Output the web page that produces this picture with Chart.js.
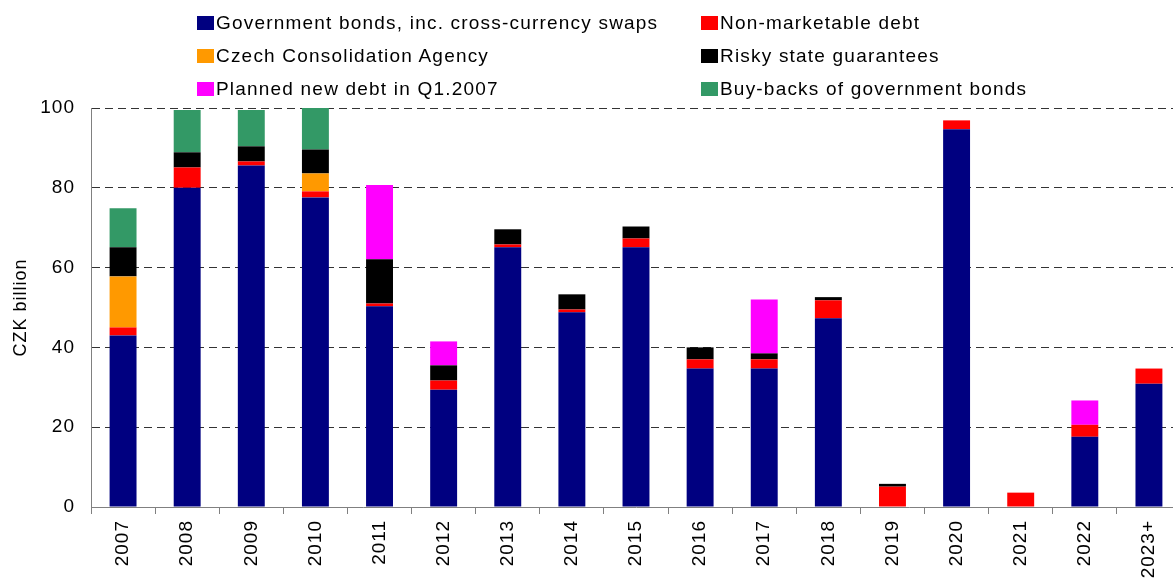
<!DOCTYPE html>
<html>
<head>
<meta charset="utf-8">
<script src="https://cdn.jsdelivr.net/npm/chart.js@4.4.1/dist/chart.umd.min.js"></script>
<style>
    html, body { margin: 0; padding: 0; background: #fff; overflow: hidden; }
    #wrap { position: relative; width: 1173px; height: 578px; overflow: hidden; }
    #chart { position: absolute; left: 0; top: 0; }
    #legend { position: absolute; left: 0; top: 0; width: 1173px; height: 100px;
        font-family: "Liberation Sans", Arial, sans-serif; font-size: 19px; letter-spacing: 1.2px; color: #000; }
    .item { position: absolute; display: flex; align-items: center; height: 22px; white-space: nowrap; }
    .box { width: 17px; height: 14px; margin-right: 2px; }
</style>
</head>
<body>
<div id="wrap">
    <canvas id="chart" width="1181" height="578" style="width:1181px;height:578px"></canvas>
    <div id="legend"></div>
</div>
<script>
const categories = ['2007', '2008', '2009', '2010', '2011', '2012', '2013', '2014', '2015',
    '2016', '2017', '2018', '2019', '2020', '2021', '2022', '2023+'];

const govBonds       = [43.0, 80.0, 85.6, 77.6, 50.3, 29.4, 65.1, 48.8, 65.1, 34.7, 34.7, 47.3, 0, 94.7, 0, 17.6, 30.9];
const nonMarketable  = [2.0, 5.1, 1.0, 1.5, 0.7, 2.3, 0.7, 0.7, 2.2, 2.3, 2.3, 4.5, 5.1, 2.2, 3.6, 3.0, 3.8];
const consolidation  = [12.8, 0, 0, 4.5, 0, 0, 0, 0, 0, 0, 0, 0, 0, 0, 0, 0, 0];
const riskyGuarantee = [7.3, 3.8, 3.8, 6.0, 11.1, 3.8, 3.8, 3.8, 3.0, 3.0, 1.5, 0.8, 0.7, 0, 0, 0, 0];
const plannedDebt    = [0, 0, 0, 0, 18.6, 6.0, 0, 0, 0, 0, 13.5, 0, 0, 0, 0, 6.1, 0];
const buyBacks       = [9.8, 10.6, 9.1, 10.6, 0, 0, 0, 0, 0, 0, 0, 0, 0, 0, 0, 0, 0];

const yTicks = [0, 20, 40, 60, 80, 100];

const fontFamily = '"Liberation Sans", Arial, sans-serif';

function series(label, data, color) {
    return {
        label: label,
        data: data,
        backgroundColor: color,
        borderWidth: 0,
        stack: 'debt',
        barPercentage: 0.42,
        categoryPercentage: 1
    };
}

const datasets = [
    series('Government bonds, inc. cross-currency swaps', govBonds, '#000080'),
    series('Non-marketable debt', nonMarketable, '#ff0000'),
    series('Czech Consolidation Agency', consolidation, '#ff9900'),
    series('Risky state guarantees', riskyGuarantee, '#000000'),
    series('Planned new debt in Q1.2007', plannedDebt, '#ff00ff'),
    series('Buy-backs of government bonds', buyBacks, '#339966')
];

// canvas letter spacing gets reset on resize, so set it every time
const spacing = {
    id: 'spacing',
    beforeUpdate(chart) { chart.ctx.letterSpacing = '1px'; },
    beforeDraw(chart) { chart.ctx.letterSpacing = '1px'; }
};

const chart = new Chart(document.getElementById('chart'), {
    type: 'bar',
    data: { labels: categories, datasets: datasets },
    plugins: [spacing],
    options: {
        responsive: false,
        animation: false,
        layout: { padding: { top: 108, right: 0, bottom: 0, left: 0 } },
        plugins: {
            legend: { display: false },
            tooltip: { enabled: false }
        },
        scales: {
            x: {
                stacked: true,
                grid: { drawOnChartArea: false, drawTicks: true, tickLength: 7, color: '#808080', offset: true },
                border: { display: true, color: '#808080', width: 1 },
                ticks: {
                    color: '#000',
                    font: { family: fontFamily, size: 19 },
                    minRotation: 90,
                    maxRotation: 90,
                    padding: 6,
                    autoSkip: false
                },
                afterFit(scale) { scale.height = 71; }
            },
            y: {
                stacked: true,
                min: 0,
                max: 100,
                afterBuildTicks(scale) { scale.ticks = yTicks.map(v => ({ value: v })); },
                grid: { color: '#333', drawTicks: false, lineWidth: 1 },
                border: { display: true, color: '#808080', width: 1, dash: [8, 5] },
                ticks: {
                    color: '#000',
                    font: { family: fontFamily, size: 19 },
                    padding: 16
                },
                title: {
                    display: true,
                    text: 'CZK billion',
                    color: '#000',
                    font: { family: fontFamily, size: 18 },
                    padding: { top: 10, bottom: 0 }
                },
                afterFit(scale) { scale.width = 91; }
            }
        }
    }
});

// two-column legend built from the chart datasets
const legendBox = document.getElementById('legend');
const colX = [197, 701];
const rowY = [12, 45, 78];
chart.data.datasets.forEach((ds, i) => {
    const item = document.createElement('div');
    item.className = 'item';
    item.style.left = colX[i % 2] + 'px';
    item.style.top = rowY[Math.floor(i / 2)] + 'px';
    const box = document.createElement('span');
    box.className = 'box';
    box.style.background = ds.backgroundColor;
    const txt = document.createElement('span');
    txt.textContent = ds.label;
    item.appendChild(box);
    item.appendChild(txt);
    legendBox.appendChild(item);
});
</script>
</body>
</html>
